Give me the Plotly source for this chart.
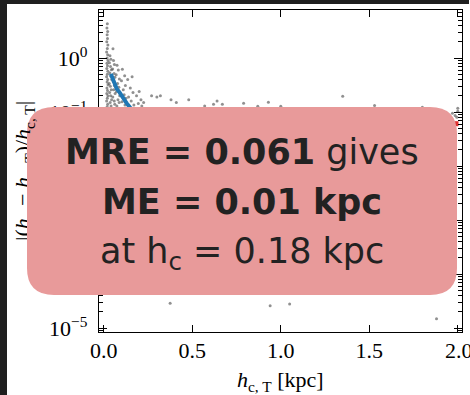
import plotly.graph_objects as go

# ---------------- data ----------------
col_a_x = [0.020, 0.018, 0.022, 0.019, 0.021, 0.017, 0.023, 0.020, 0.016, 0.022, 0.019, 0.024, 0.018,
           0.021, 0.017, 0.023, 0.020, 0.016, 0.022, 0.019, 0.024, 0.018, 0.021, 0.017, 0.023, 0.020,
           0.016, 0.022, 0.019]
col_a_y = [4.3, 3.6, 3.1, 2.7, 2.3, 2.0, 1.75, 1.5, 1.3, 1.15, 1.0, 0.9, 0.8,
           0.72, 0.64, 0.57, 0.5, 0.45, 0.4, 0.36, 0.32, 0.28, 0.25, 0.22, 0.2, 0.18,
           0.16, 0.14, 0.125]
col_b_x = [0.035, 0.040, 0.032, 0.038, 0.043, 0.034, 0.040, 0.045, 0.031, 0.037, 0.042, 0.033,
           0.039, 0.044, 0.036, 0.041]
col_b_y = [1.1, 0.95, 0.82, 0.7, 0.61, 0.53, 0.46, 0.4, 0.34, 0.3, 0.26, 0.23,
           0.2, 0.17, 0.15, 0.13]
col_c_x = [0.052, 0.055, 0.060, 0.050, 0.058, 0.063, 0.053, 0.060, 0.056, 0.064, 0.051, 0.059, 0.062]
col_c_y = [1.49, 0.9, 0.76, 0.63, 0.52, 0.44, 0.37, 0.31, 0.26, 0.22, 0.19, 0.16, 0.14]
col_d_x = [0.075, 0.082, 0.070, 0.088, 0.078, 0.085, 0.072, 0.090, 0.080, 0.087, 0.074]
col_d_y = [0.74, 0.6, 0.49, 0.41, 0.34, 0.29, 0.24, 0.2, 0.17, 0.15, 0.13]
col_e_x = [0.105, 0.118, 0.100, 0.122, 0.110, 0.115, 0.125, 0.103, 0.120]
col_e_y = [0.62, 0.47, 0.38, 0.31, 0.26, 0.21, 0.18, 0.155, 0.135]
col_f_x = [0.160, 0.135, 0.150, 0.165, 0.140, 0.155, 0.170, 0.145]
col_f_y = [0.45, 0.4, 0.28, 0.23, 0.19, 0.16, 0.135, 0.125]
col_g_x = [0.200, 0.185, 0.210, 0.195, 0.215, 0.225]
col_g_y = [0.24, 0.2, 0.17, 0.145, 0.13, 0.15]
sparse_x = [0.27, 0.30, 0.32, 0.38, 0.41, 0.48, 0.57, 0.62, 0.64, 0.67, 0.79, 0.87, 0.93, 1.00,
            1.35, 1.53, 1.80, 1.97, 2.00, 2.00, 1.995, 1.985]
sparse_y = [0.2, 0.19, 0.2, 0.17, 0.15, 0.17, 0.13, 0.14, 0.16, 0.14, 0.146, 0.128, 0.152, 0.128,
            0.196, 0.133, 0.123, 0.095, 0.118, 0.104, 0.08, 0.087]
hidden_x = [0.02, 0.03, 0.05, 0.08, 0.10, 0.15, 0.20, 0.30, 0.40, 0.60, 0.80, 1.10, 1.40, 1.70, 1.95]
hidden_y = [0.08, 0.04, 0.02, 0.05, 0.01, 0.03, 0.004, 0.02, 0.002, 0.01, 0.0008, 0.005, 0.0003,
            0.002, 0.01]
low_x = [0.375, 0.94, 1.05, 1.88]
low_y = [2.9e-5, 2.6e-5, 2.8e-5, 1.5e-5]

median_x = [0.04, 0.055, 0.073, 0.09, 0.11, 0.13, 0.15, 0.18, 0.25]
median_y = [0.51, 0.38, 0.27, 0.23, 0.18, 0.145, 0.12, 0.095, 0.06]

mre_x = [1.99]
mre_y = [0.061]

x_tickvals = [0.0, 0.5, 1.0, 1.5, 2.0]
x_ticktext = ["0.0", "0.5", "1.0", "1.5", "2.0"]
y_tickvals = [1, 0.1, 0.01, 0.001, 0.0001, 0.00001]
y_ticktext = ["10<sup>0</sup>", "10<sup>\u22121</sup>", "10<sup>\u22122</sup>",
              "10<sup>\u22123</sup>", "10<sup>\u22124</sup>", "10<sup>\u22125</sup>"]

box_lines = ["<b>MRE = 0.061</b> gives", "<b>ME = 0.01 kpc</b>", "at h<sub>c</sub> = 0.18 kpc"]

scatter_x = col_a_x + col_b_x + col_c_x + col_d_x + col_e_x + col_f_x + col_g_x + sparse_x + hidden_x + low_x
scatter_y = col_a_y + col_b_y + col_c_y + col_d_y + col_e_y + col_f_y + col_g_y + sparse_y + hidden_y + low_y

# ---------------- layout geometry (pixels) ----------------
FW, FH = 470, 395
L, R, T, B = 99, 462, 10, 332
W, H = R - L, B - T


def px(x):
    return (x - L) / W


def py(y):
    return (B - y) / H


def pt(x, y):
    return f"{px(x):.5f},{py(y):.5f}"


bx0, bx1, by0, by1, rad = 27, 457, 107, 295, 27
box_path = (
    f"M {pt(bx0 + rad, by0)} L {pt(bx1 - rad, by0)} Q {pt(bx1, by0)} {pt(bx1, by0 + rad)} "
    f"L {pt(bx1, by1 - rad)} Q {pt(bx1, by1)} {pt(bx1 - rad, by1)} "
    f"L {pt(bx0 + rad, by1)} Q {pt(bx0, by1)} {pt(bx0, by1 - rad)} "
    f"L {pt(bx0, by0 + rad)} Q {pt(bx0, by0)} {pt(bx0 + rad, by0)} Z"
)
PINK = "#E89A9A"
DARK = "#1f1f1f"
SERIF = "Liberation Serif"
line_centers = [152, 202, 253]

fig = go.Figure()
fig.add_trace(go.Scatter(
    x=scatter_x, y=scatter_y, mode="markers",
    marker=dict(size=3, color="rgba(70,70,70,0.6)", line=dict(width=0)),
    showlegend=False, hoverinfo="skip"))
fig.add_trace(go.Scatter(
    x=median_x, y=median_y, mode="lines",
    line=dict(color="#1f77b4", width=4), showlegend=False))
fig.add_trace(go.Scatter(
    x=mre_x, y=mre_y, mode="markers",
    marker=dict(symbol="square", size=5, color="#e03030"), showlegend=False))

minor_vals = [m * 10.0 ** k for k in range(-6, 1) for m in range(2, 10)]

annotations = [
    dict(xref="paper", yref="paper", x=px(24), y=py(171), xanchor="center", yanchor="middle",
         textangle=-90, showarrow=False,
         text="|(<i>h</i><sub>c</sub> \u2212 <i>h</i><sub>c, T</sub>)/<i>h</i><sub>c, T</sub>|",
         font=dict(family=SERIF, size=22, color="black")),
    dict(xref="paper", yref="paper", x=px(bx0), y=py(by0 + rad), xanchor="left", yanchor="top",
         showarrow=False, text=" ", width=14, height=by1 - by0 - 2 * rad, bgcolor=PINK,
         borderpad=0, borderwidth=0),
    dict(xref="paper", yref="paper", x=px(280), y=py(381), xanchor="center", yanchor="middle",
         showarrow=False, text="<i>h</i><sub>c, T</sub> [kpc]",
         font=dict(family=SERIF, size=22, color="black")),
    # last x tick label, cut by the right edge of the figure as in the reference
    dict(xref="x", yref="paper", x=x_tickvals[-1], xshift=-14, y=py(350), xanchor="left",
         yanchor="middle", showarrow=False, text=x_ticktext[-1], width=26, align="left",
         borderpad=0, font=dict(family=SERIF, size=22, color="black")),
    # dark page edges seen at the left and top of the reference
    dict(xref="paper", yref="paper", x=px(0), y=py(0), xanchor="left", yanchor="top",
         showarrow=False, text=" ", width=7, height=FH, bgcolor=DARK, borderpad=0, borderwidth=0),
    dict(xref="paper", yref="paper", x=px(0), y=py(0), xanchor="left", yanchor="top",
         showarrow=False, text=" ", width=FW - 1, height=3.5, bgcolor=DARK, borderpad=0,
         borderwidth=0, font=dict(size=2)),
]
for txt, yc in zip(box_lines, line_centers):
    annotations.append(dict(xref="paper", yref="paper", x=px(242), y=py(yc), xanchor="center",
                            yanchor="middle", showarrow=False, text=txt,
                            font=dict(family="DejaVu Sans", size=35, color="#222222")))

fig.update_layout(
    width=FW, height=FH, autosize=False,
    margin=dict(l=L, r=FW - R, t=T, b=FH - B, pad=0),
    paper_bgcolor="white", plot_bgcolor="white",
    xaxis=dict(range=[-0.027, 2.024], tickmode="array", tickvals=x_tickvals,
               ticktext=x_ticktext[:-1] + [""],
               ticks="inside", ticklen=7, tickwidth=1.2, tickcolor="black",
               showline=True, linecolor="black", linewidth=1.3, mirror="ticks",
               showgrid=False, zeroline=False,
               tickfont=dict(family=SERIF, size=22, color="black"), ticklabelstandoff=-2),
    yaxis=dict(type="log", range=[-5.07, 0.89], tickmode="array", tickvals=y_tickvals,
               ticktext=y_ticktext,
               ticks="inside", ticklen=8, tickwidth=1.2, tickcolor="black",
               minor=dict(tickmode="array", tickvals=minor_vals, ticks="inside", ticklen=4,
                          tickwidth=1, tickcolor="black", showgrid=False),
               showline=True, linecolor="black", linewidth=1.3, mirror="ticks",
               showgrid=False, zeroline=False,
               tickfont=dict(family=SERIF, size=22, color="black"), ticklabelstandoff=6),
    shapes=[
        dict(type="path", xref="paper", yref="paper", path=box_path,
             fillcolor=PINK, line=dict(width=0), layer="above"),
    ],
    annotations=annotations,
)

fig.write_html("out.html", config=dict(responsive=False, displayModeBar=False))
